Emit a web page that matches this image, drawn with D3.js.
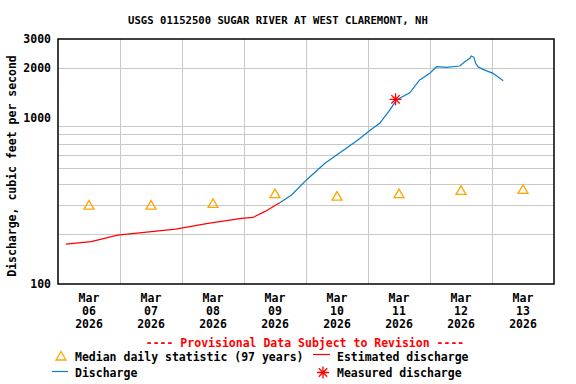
<!DOCTYPE html>
<html>
<head>
<meta charset="utf-8">
<script src="https://cdn.jsdelivr.net/npm/d3@7"></script>
<style>
  body { margin: 0; background: #fff; }
  text { font-family: "DejaVu Sans Mono", monospace; font-weight: bold; }
</style>
</head>
<body>
<svg id="chart" width="576" height="384"></svg>
<script>

const dayLabels = ["06", "07", "08", "09", "10", "11", "12", "13"];

// median daily statistic, plotted at noon of each day
const medianDays = ["2026-03-06T12:00", "2026-03-07T12:00", "2026-03-08T12:00", "2026-03-09T12:00",
                    "2026-03-10T12:00", "2026-03-11T12:00", "2026-03-12T12:00", "2026-03-13T12:00"];
const medianValues = [299, 299, 306, 351, 339, 351, 367, 372];

// estimated discharge (red)
const estTimes = ["2026-03-06T03:00", "2026-03-06T12:50", "2026-03-06T23:05", "2026-03-07T09:25",
                  "2026-03-07T21:30", "2026-03-08T10:05", "2026-03-08T23:00", "2026-03-09T03:30",
                  "2026-03-09T08:00", "2026-03-09T13:50"];
const estValues = [174, 180, 197, 205, 214, 232, 249, 252, 273, 309];

// discharge (blue)
const qTimes = ["2026-03-09T13:50", "2026-03-09T18:25", "2026-03-10T00:10", "2026-03-10T07:20",
                "2026-03-10T13:40", "2026-03-10T20:05", "2026-03-11T01:20", "2026-03-11T04:30",
                "2026-03-11T08:25", "2026-03-11T11:00", "2026-03-11T16:10", "2026-03-11T20:00",
                "2026-03-11T23:55", "2026-03-12T02:30", "2026-03-12T06:25", "2026-03-12T11:30",
                "2026-03-12T13:30", "2026-03-12T15:25", "2026-03-12T16:00", "2026-03-12T17:00",
                "2026-03-12T17:40", "2026-03-12T18:35", "2026-03-12T20:30", "2026-03-13T00:25",
                "2026-03-13T04:20"];
const qValues = [309, 344, 424, 534, 627, 738, 856, 931, 1119, 1285, 1422, 1698,
                 1862, 2042, 2023, 2061, 2188, 2293, 2368, 2326, 2140, 2042, 1968, 1862, 1681];

// field measurement
const measTime = "2026-03-11T10:40";
const measValue = 1298;

const yTickValues = [100, 1000, 2000, 3000];
const yGridValues = [200, 300, 400, 500, 600, 700, 800, 900, 2000];

// ** chart **

const parse = d3.timeParse("%Y-%m-%dT%H:%M");
const svg = d3.select("#chart");

const margin = { top: 39, right: 22, bottom: 100, left: 58 };
const width = 576 - margin.left - margin.right;
const height = 384 - margin.top - margin.bottom;

const xScale = d3.scaleTime()
    .domain([parse("2026-03-06T00:00"), parse("2026-03-14T00:00")])
    .range([0, width]);
const yScale = d3.scaleLog().domain([100, 3000]).range([height, 0]);

const g = svg.append("g").attr("transform", `translate(${margin.left},${margin.top})`);

// title
svg.append("text")
    .attr("x", 278)
    .attr("y", 24)
    .attr("text-anchor", "middle")
    .style("font-size", "10.6px")
    .text("USGS 01152500 SUGAR RIVER AT WEST CLAREMONT, NH");

// horizontal grid
g.append("g").selectAll("line")
    .data(yGridValues)
    .join("line")
    .attr("x1", 0).attr("x2", width)
    .attr("y1", d => Math.round(yScale(d)) + 0.5)
    .attr("y2", d => Math.round(yScale(d)) + 0.5)
    .attr("stroke", "#c8c8c8");

// vertical grid at midnight
const midnights = d3.timeDay.range(parse("2026-03-07T00:00"), parse("2026-03-14T00:00"));
g.append("g").selectAll("line")
    .data(midnights)
    .join("line")
    .attr("x1", d => Math.round(xScale(d)) + 0.5)
    .attr("x2", d => Math.round(xScale(d)) + 0.5)
    .attr("y1", 0).attr("y2", height)
    .attr("stroke", "#c8c8c8");

// y axis labels
g.append("g").selectAll("text")
    .data(yTickValues)
    .join("text")
    .attr("x", -7)
    .attr("y", d => yScale(d) + 4)
    .attr("text-anchor", "end")
    .style("font-size", "11.5px")
    .text(d => d);

// y axis title
svg.append("text")
    .attr("transform", "rotate(-90)")
    .attr("x", -166)
    .attr("y", 16)
    .attr("text-anchor", "middle")
    .style("font-size", "11.5px")
    .text("Discharge, cubic feet per second");

// x axis labels, three rows per day
const xLab = g.append("g").selectAll("g")
    .data(medianDays)
    .join("g")
    .attr("transform", d => `translate(${xScale(parse(d))},0)`);
xLab.append("text").attr("y", height + 18).attr("text-anchor", "middle")
    .style("font-size", "11.5px").text("Mar");
xLab.append("text").attr("y", height + 31).attr("text-anchor", "middle")
    .style("font-size", "11.5px").text((d, i) => dayLabels[i]);
xLab.append("text").attr("y", height + 44).attr("text-anchor", "middle")
    .style("font-size", "11.5px").text("2026");

// lines
const line = d3.line()
    .x(d => xScale(d[0]))
    .y(d => yScale(d[1]));

g.append("path")
    .datum(estTimes.map((t, i) => [parse(t), estValues[i]]))
    .attr("d", line)
    .attr("fill", "none")
    .attr("stroke", "#ff0000")
    .attr("stroke-width", 1.2);

g.append("path")
    .datum(qTimes.map((t, i) => [parse(t), qValues[i]]))
    .attr("d", line)
    .attr("fill", "none")
    .attr("stroke", "#0a7ccc")
    .attr("stroke-width", 1.2);

// median triangles
const triPath = "M0,-4.5L5,4L-5,4Z";
g.append("g").selectAll("path")
    .data(medianDays)
    .join("path")
    .attr("transform", (d, i) => `translate(${xScale(parse(d))},${yScale(medianValues[i])})`)
    .attr("d", triPath)
    .attr("fill", "none")
    .attr("stroke", "#ffa500")
    .attr("stroke-width", 1.3);

// measured star
const starPath = "M-6,0L6,0M0,-6L0,6M-4.2,-4.2L4.2,4.2M-4.2,4.2L4.2,-4.2";
g.append("path")
    .attr("transform", `translate(${xScale(parse(measTime))},${yScale(measValue)})`)
    .attr("d", starPath)
    .attr("stroke", "#ff0000")
    .attr("stroke-width", 1.3);

// plot border
g.append("rect")
    .attr("width", width)
    .attr("height", height)
    .attr("fill", "none")
    .attr("stroke", "#000")
    .attr("stroke-width", 1.5);

// provisional note
svg.append("text")
    .attr("x", 305)
    .attr("y", 347)
    .attr("text-anchor", "middle")
    .attr("fill", "#ff0000")
    .style("font-size", "11.5px")
    .text("---- Provisional Data Subject to Revision ----");

// legend
const legend = svg.append("g");
legend.append("path").attr("transform", "translate(61,356)").attr("d", triPath)
    .attr("fill", "none").attr("stroke", "#ffa500").attr("stroke-width", 1.3);
legend.append("text").attr("x", 75).attr("y", 361).style("font-size", "11.5px")
    .text("Median daily statistic (97 years)");
legend.append("line").attr("x1", 313).attr("x2", 330).attr("y1", 354.5).attr("y2", 354.5)
    .attr("stroke", "#ff0000").attr("stroke-width", 1.2);
legend.append("text").attr("x", 337).attr("y", 361).style("font-size", "11.5px")
    .text("Estimated discharge");
legend.append("line").attr("x1", 52).attr("x2", 68).attr("y1", 371.5).attr("y2", 371.5)
    .attr("stroke", "#0a7ccc").attr("stroke-width", 1.2);
legend.append("text").attr("x", 75).attr("y", 377).style("font-size", "11.5px")
    .text("Discharge");
legend.append("path").attr("transform", "translate(323,372.5)").attr("d", starPath)
    .attr("stroke", "#ff0000").attr("stroke-width", 1.3);
legend.append("text").attr("x", 337).attr("y", 377).style("font-size", "11.5px")
    .text("Measured discharge");
</script>
</body>
</html>
